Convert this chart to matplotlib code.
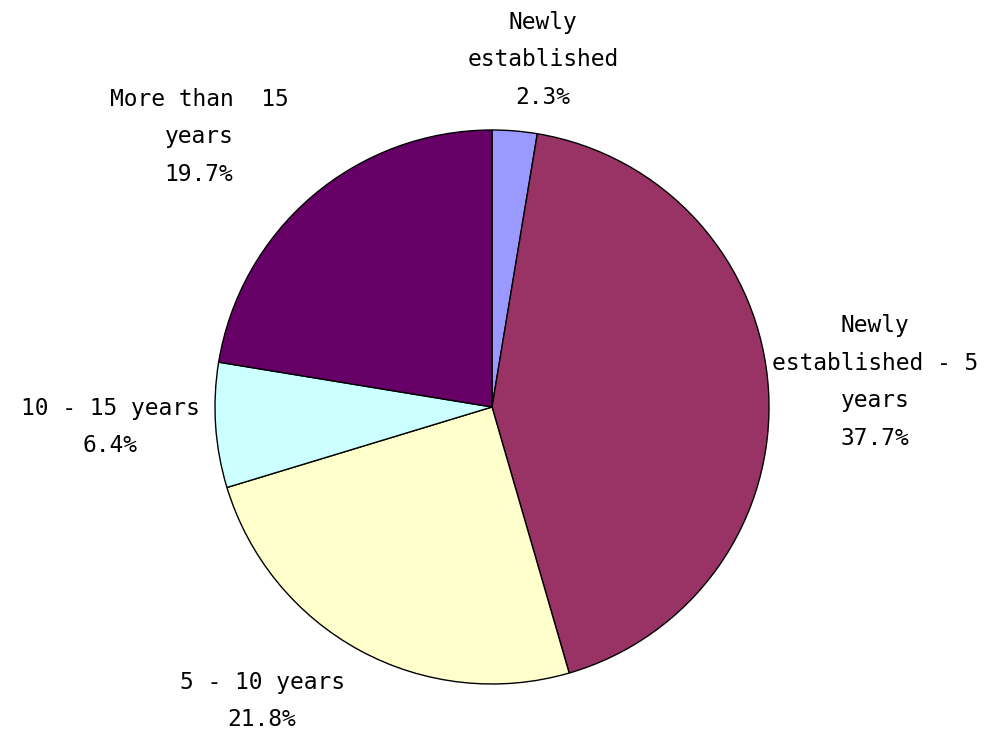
import matplotlib
matplotlib.use("Agg")
import matplotlib.pyplot as plt

categories = ['Newly\nestablished', 'Newly\nestablished - 5\nyears', '5 - 10 years',
              '10 - 15 years', 'More than  15\nyears']
values = [2.3, 37.7, 21.8, 6.4, 19.7]
colors = ['#9999FF', '#993366', '#FFFFCC', '#CCFFFF', '#660066']

# label centres in pixel coords (from top-left)
label_pos = [(543, 60), (875, 382), (262, 701), (110, 427), (199, 137)]

W, H = 984, 733
fig = plt.figure(figsize=(W / 100, H / 100), dpi=100)
ax = fig.add_axes([0, 0, 1, 1])
ax.set_xlim(0, W)
ax.set_ylim(0, H)
ax.set_aspect('equal')
ax.axis('off')

ax.pie(values, colors=colors, startangle=90, counterclock=False,
       center=(492, H - 407), radius=277,
       wedgeprops=dict(edgecolor='black', linewidth=1.0))

for cat, v, (x, y) in zip(categories, values, label_pos):
    ax.text(x, H - y, f'{cat}\n{v}%', ha='center', va='center',
            fontsize=16.5, family='DejaVu Sans Mono', linespacing=1.83)

ax.set_xlim(0, W)
ax.set_ylim(0, H)
fig.savefig('out.png', dpi=100)
